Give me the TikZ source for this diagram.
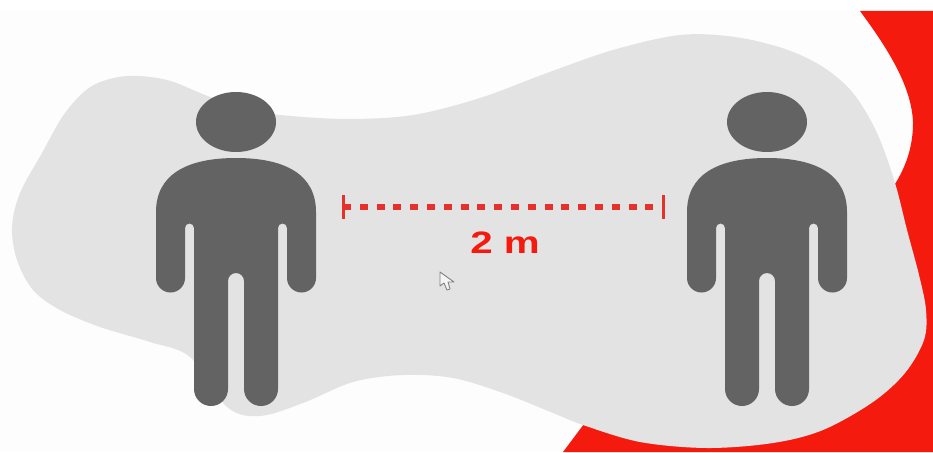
\documentclass[tikz,border=0pt]{standalone}
\usepackage{fontspec}
\setmainfont{Liberation Sans}
\usetikzlibrary{positioning, calc}
\definecolor{pageWhite}{RGB}{254, 253, 254}
\definecolor{blobGray}{RGB}{227, 227, 228}
\definecolor{personGray}{RGB}{99, 99, 100}
\definecolor{signalRed}{RGB}{244, 26, 14}
\definecolor{rulerRed}{RGB}{230, 48, 42}

\begin{document}
\begin{tikzpicture}[
    x=1pt, y=-1pt,
    person_fill/.style={fill=personGray, draw=none},
    ruler_tick/.style={draw=rulerRed, line width=3pt},
    ruler_line/.style={draw=rulerRed, line width=5.5pt, dash pattern=on 8pt off 8.8pt},
    distance_label/.style={text=signalRed, font=\bfseries\fontsize{31}{31}\selectfont, xscale=1.3, transform shape, inner sep=0pt},
    person/.pic={
        \path[person_fill] (0,122) ellipse [x radius=40, y radius=30];
        \path[person_fill] (-80,212) .. controls (-80,175) and (-50,158) .. (0,158)
            .. controls (50,158) and (80,175) .. (80,212)
            -- (80,278) arc [start angle=0, end angle=180, radius=14.5]
            -- (51,228) arc [start angle=0, end angle=-180, radius=4.5]
            -- (42,389) arc [start angle=0, end angle=180, radius=17]
            -- (8,281) arc [start angle=0, end angle=-180, radius=8]
            -- (-8,389) arc [start angle=0, end angle=180, radius=17]
            -- (-42,228) arc [start angle=0, end angle=-180, radius=4.5]
            -- (-51,278) arc [start angle=0, end angle=180, radius=14.5]
            -- cycle;
    }
]
    \useasboundingbox (0,0) rectangle (933,452);
    \fill[white] (0,0) rectangle (933,11);
    \fill[pageWhite] (0,11) rectangle (933,452);

    % Red corner behind the blob
    \fill[signalRed] (860,11) .. controls (885,45) and (912,85) .. (913,123)
        .. controls (913,148) and (905,168) .. (895,184)
        -- (905,300) -- (850,400) -- (700,430) -- (584,424) -- (563,452)
        -- (933,452) -- (933,11) -- cycle;

    % Gray blob
    \fill[blobGray] plot[smooth cycle, tension=0.55] coordinates {
        (12,227) (20,193) (42,153) (65,113) (92,86) (127,76) (167,80) (205,95)
        (240,108) (280,115) (347,119) (413,115) (480,98) (547,73) (613,50) (680,35)
        (735,37) (785,49) (823,67) (853,93) (877,133) (895,183) (907,230) (919,275)
        (926,310) (924,340) (905,373) (873,402) (823,430) (773,443) (707,448) (640,442)
        (583,425) (553,413) (503,393) (453,378) (403,375) (353,382) (303,403) (260,416)
        (227,407) (190,357) (150,342) (100,327) (60,310) (33,290) (17,260)
    };

    % People
    \pic at (236,0) {person};
    \pic at (767,0) {person};

    % Distance ruler
    \coordinate (ruler_left) at (343,207);
    \coordinate (ruler_right) at (663,207);
    \draw[ruler_line] (ruler_left) -- (ruler_right);
    \draw[ruler_tick] ($(ruler_left)+(0,-12)$) -- ($(ruler_left)+(0,12)$);
    \draw[ruler_tick] ($(ruler_right)+(0,-12)$) -- ($(ruler_right)+(0,12)$);
    \node[distance_label] (distance) at (505,243) {2 m};

    % Mouse pointer
    \draw[draw=gray, fill=white!92!gray, line width=0.9pt, line join=round] (440,272) -- (440,286) -- (444,283)
        -- (447,290) -- (450,289) -- (448,282) -- (454,282) -- cycle;
\end{tikzpicture}
\end{document}
